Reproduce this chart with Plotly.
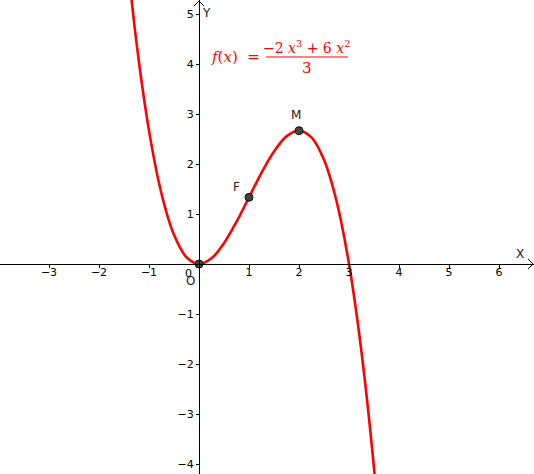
import plotly.graph_objects as go

# curve f(x) = (-2x^3 + 6x^2) / 3
curve_x = [-1.5, -1.25, -1.0, -0.75, -0.5, -0.25, 0.0, 0.25, 0.5, 0.75, 1.0,
           1.25, 1.5, 1.75, 2.0, 2.25, 2.5, 2.75, 3.0, 3.25, 3.5, 3.75]
curve_y = [6.75, 4.427, 2.667, 1.406, 0.583, 0.135, 0.0, 0.115, 0.417, 0.844, 1.333,
           1.823, 2.25, 2.552, 2.667, 2.531, 2.083, 1.26, 0.0, -1.76, -4.083, -7.031]

# named points on the curve
point_names = ["O", "F", "M"]
point_x = [0, 1, 2]
point_y = [0, 1.3333, 2.6667]

x_ticks = [-3, -2, -1, 1, 2, 3, 4, 5, 6]
y_ticks = [-4, -3, -2, -1, 1, 2, 3, 4, 5]

x_range = [-3.98, 6.7]
y_range = [-4.2, 5.28]

red = "#ff0000"
sans = "DejaVu Sans"
serif = "DejaVu Serif"


def tick_text(vals):
    return [("−%d" % -v) if v < 0 else str(v) for v in vals]


fig = go.Figure()

fig.add_trace(go.Scatter(
    x=curve_x, y=curve_y, mode="lines",
    line=dict(color=red, width=2.6, shape="spline"),
    hoverinfo="skip",
))

fig.add_trace(go.Scatter(
    x=point_x, y=point_y, mode="markers",
    marker=dict(size=8, color="#444444", line=dict(color="#111111", width=1)),
    hoverinfo="skip",
))

# point labels
label_offsets = {"O": (-0.18, -0.33), "F": (-0.26, 0.21), "M": (-0.06, 0.31)}
for name, px, py in zip(point_names, point_x, point_y):
    dx, dy = label_offsets[name]
    fig.add_annotation(x=px + dx, y=py + dy, text=name, showarrow=False,
                       font=dict(family=sans, size=12, color="#222222"))

# origin tick label (sits left of the y axis, under the O)
fig.add_annotation(x=-0.22, y=-0.19, text="0", showarrow=False,
                   font=dict(family=sans, size=11, color="black"))

# axis names
fig.add_annotation(x=6.42, y=0.2, text="X", showarrow=False,
                   font=dict(family=sans, size=12, color="#222222"))
fig.add_annotation(x=0.14, y=5.02, text="Y", showarrow=False,
                   font=dict(family=sans, size=12, color="#222222"))

# formula
fig.add_annotation(x=0.72, y=4.14, text="<i>f</i>(<i>x</i>)  =", showarrow=False,
                   font=dict(family=serif, size=15, color=red))
fig.add_annotation(x=2.14, y=4.35,
                   text="−2 <i>x</i><sup>3</sup> + 6 <i>x</i><sup>2</sup>",
                   showarrow=False, font=dict(family=serif, size=14, color=red))
fig.add_annotation(x=2.16, y=3.93, text="3", showarrow=False,
                   font=dict(family=serif, size=15, color=red))
fig.add_shape(type="line", x0=1.34, x1=2.98, y0=4.14, y1=4.14,
              line=dict(color=red, width=1))

# arrow heads at the axis ends
fig.add_shape(type="path", xref="x", yref="y",
              xsizemode="pixel", ysizemode="pixel", xanchor=x_range[1], yanchor=0,
              path="M -6,-5 L -1,0 L -6,5", line=dict(color="black", width=1))
fig.add_shape(type="path", xref="x", yref="y",
              xsizemode="pixel", ysizemode="pixel", xanchor=0, yanchor=y_range[1],
              path="M -5,-6 L 0,-1 L 5,-6", line=dict(color="black", width=1))

x_pos = (0 - y_range[0]) / (y_range[1] - y_range[0])
y_pos = (0 - x_range[0]) / (x_range[1] - x_range[0])

fig.update_layout(
    width=534, height=474,
    margin=dict(l=0, r=0, t=0, b=0),
    paper_bgcolor="white", plot_bgcolor="white",
    showlegend=False,
    font=dict(family=sans, size=11, color="black"),
    xaxis=dict(range=x_range, anchor="free", position=x_pos,
               showline=True, linecolor="black", linewidth=1,
               ticks="outside", ticklen=3, tickcolor="black",
               ticklabelstandoff=-5,
               tickvals=x_ticks, ticktext=tick_text(x_ticks),
               showgrid=False, zeroline=False, fixedrange=True),
    yaxis=dict(range=y_range, anchor="free", position=y_pos,
               showline=True, linecolor="black", linewidth=1,
               ticks="outside", ticklen=3, tickcolor="black",
               ticklabelstandoff=0,
               tickvals=y_ticks, ticktext=tick_text(y_ticks),
               showgrid=False, zeroline=False, fixedrange=True),
)

fig.write_html("out.html", config={"displayModeBar": False},
               post_script="document.body.style.margin='0';")
